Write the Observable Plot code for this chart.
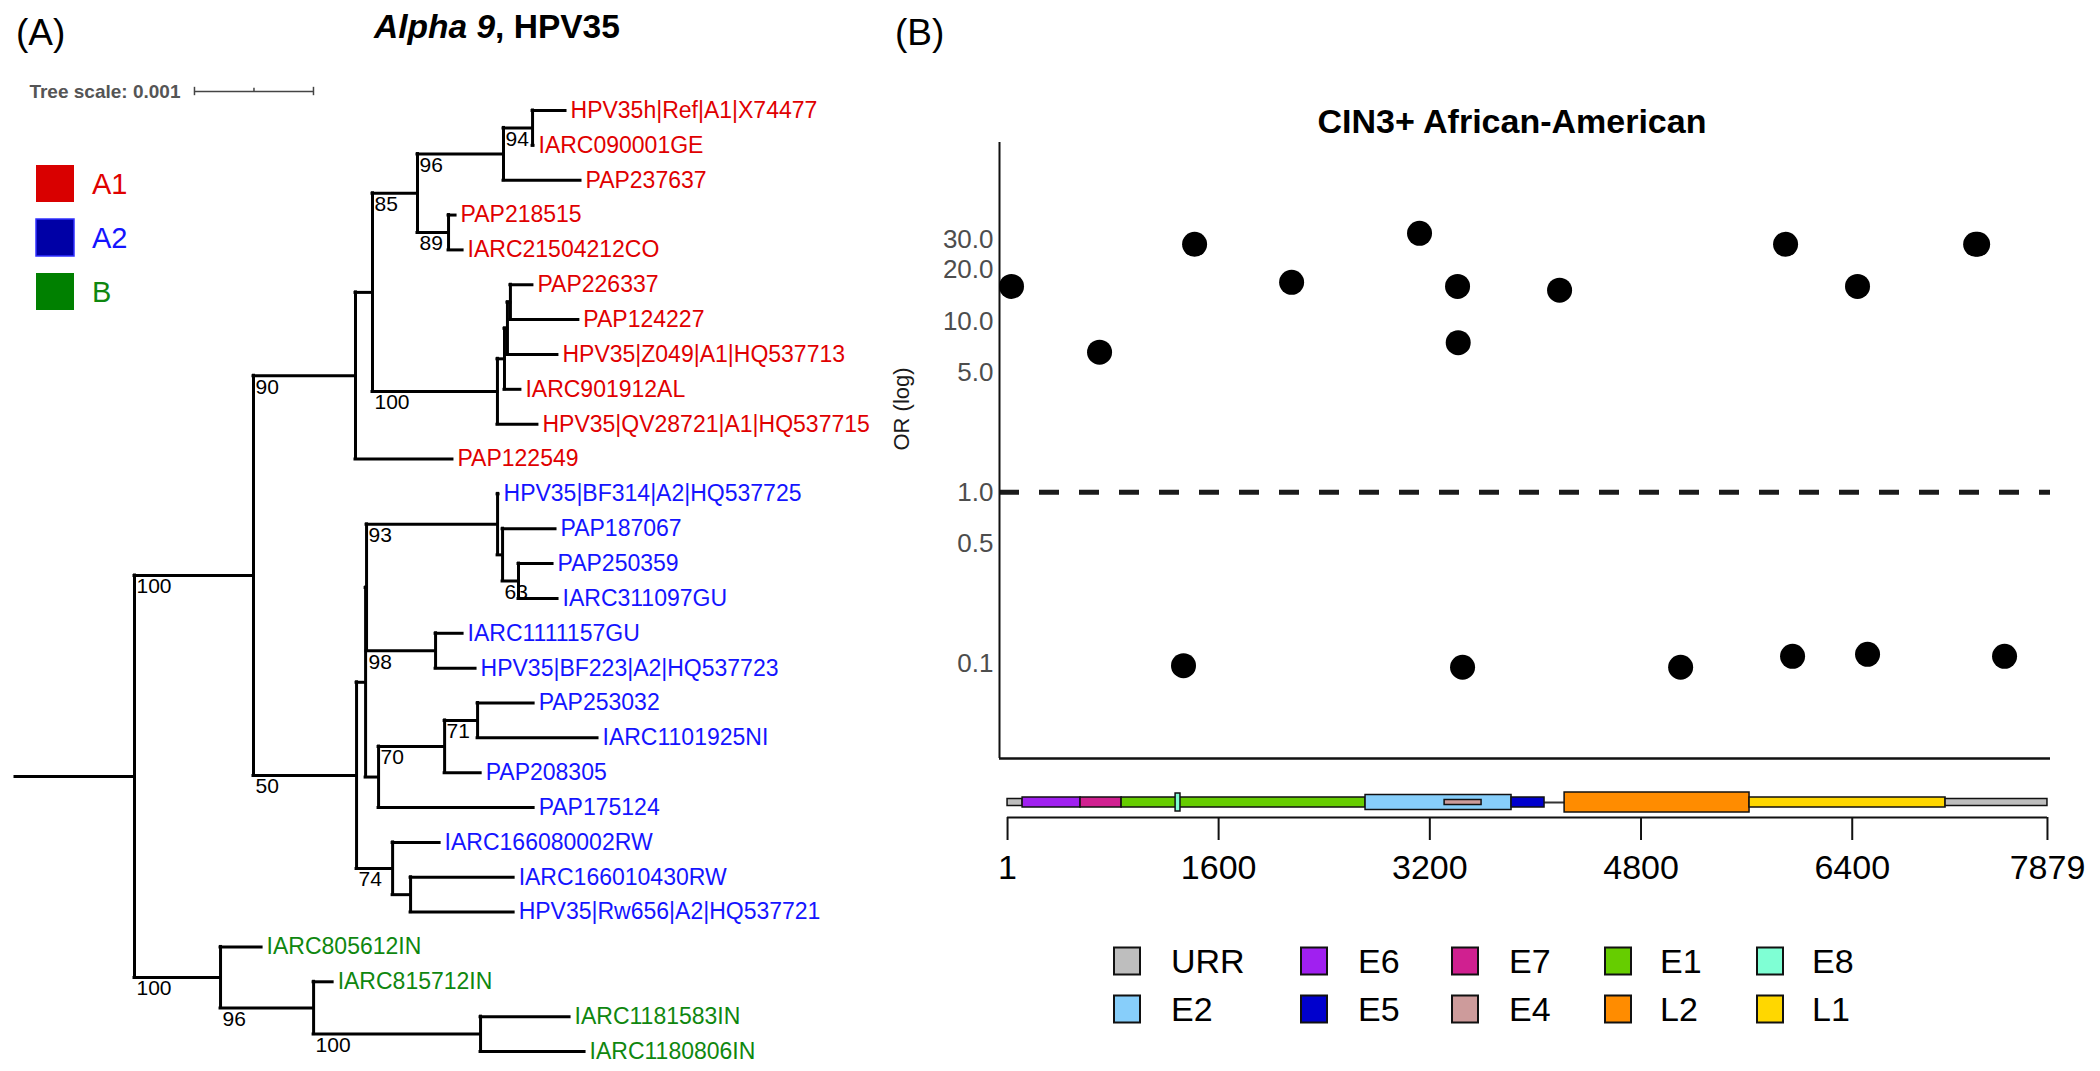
<!DOCTYPE html>
<html><head><meta charset="utf-8">
<script src="https://cdn.jsdelivr.net/npm/d3@7"></script>
<script src="https://cdn.jsdelivr.net/npm/@observablehq/plot@0.6"></script>
<style>
body{margin:0;background:#fff;}
#root{position:relative;width:2100px;height:1071px;overflow:hidden;background:#fff;font-family:"Liberation Sans",Arial,sans-serif;}
#root > div, #root > svg{position:absolute;}
</style></head><body><div id="root"></div>
<script>
// ---------------- Tree data (preorder) ----------------
const nodeIds = ["root","A","A1","n372","n417","n503","n532","HPV35h|Ref|A1|X74477","IARC090001GE","PAP237637","n447","PAP218515","IARC21504212CO","n497","n504","n507","n510","PAP226337","PAP124227","HPV35|Z049|A1|HQ537713","IARC901912AL","HPV35|QV28721|A1|HQ537715","PAP122549","A2","n365a","n365b","n497b","HPV35|BF314|A2|HQ537725","n502","PAP187067","n518","PAP250359","IARC311097GU","n435","IARC1111157GU","HPV35|BF223|A2|HQ537723","n378","n444","n477","PAP253032","IARC1101925NI","PAP208305","PAP175124","n392","IARC166080002RW","n410","IARC166010430RW","HPV35|Rw656|A2|HQ537721","B","IARC805612IN","n313","IARC815712IN","n480","IARC1181583IN","IARC1180806IN"];
const parentIds = [null,"root","A","A1","n372","n417","n503","n532","n532","n503","n417","n447","n447","n372","n497","n504","n507","n510","n510","n507","n504","n497","A1","A","A2","n365a","n365b","n497b","n497b","n502","n502","n518","n518","n365b","n435","n435","n365a","n378","n444","n477","n477","n444","n378","A2","n392","n392","n410","n410","root","B","B","n313","n313","n480","n480"];
// branch lengths in units of 0.001 substitutions/site (tree scale)
const branchLengths = [1.000,1.000,0.857,0.143,0.378,0.723,0.244,0.277,0.008,0.647,0.261,0.059,0.118,1.050,0.059,0.025,0.025,0.185,0.571,0.420,0.134,0.336,0.815,0.866,0.076,0.008,1.101,0.008,0.042,0.445,0.134,0.286,0.328,0.580,0.227,0.336,0.109,0.555,0.277,0.471,1.008,0.303,1.303,0.303,0.395,0.151,0.866,0.866,0.723,0.345,0.782,0.160,1.403,0.748,0.874];
const bootstraps = [null,100,90,null,85,96,94,null,null,null,89,null,null,100,null,null,null,null,null,null,null,null,null,50,null,null,93,null,null,null,63,null,null,98,null,null,null,70,71,null,null,null,null,74,null,null,null,null,100,null,96,null,100,null,null];
const leafClades = ["A1","A1","A1","A1","A1","A1","A1","A1","A1","A1","A1","A2","A2","A2","A2","A2","A2","A2","A2","A2","A2","A2","A2","A2","B","B","B","B"];
const cladeNames = ["A1","A2","B"];
const cladeTextColors = ["#e00000","#1414ff","#0f870f"];
const cladeKeyColors = ["#d90000","#0000a6","#008000"];
const treeScaleValue = "0.001";

// ---------------- Association data ----------------
const snpPositions = [31,698,1418,1334,2153,3122,3410,3415,3448,4183,5100,5895,5948,6440,6516,7335,7350,7554];
const snpOR = [16.0,6.6,28.2,0.097,16.9,32.7,16.0,7.5,0.095,15.2,0.095,28.2,0.110,16.0,0.113,28.2,28.2,0.110];
const orTicks = [0.1,0.5,1,5,10,20,30];
const genomeLength = 7879;
const genomeTicks = [1,1600,3200,4800,6400,7879];

// ---------------- Genome map ----------------
const geneNames = ["URR","E6","E7","E1","E8","E2","E4","E5","L2","L1","URR"];
const geneStarts = [1,115,554,865,1274,2713,3312,3819,4221,5622,7107];
const geneEnds = [115,554,865,2713,1311,3819,3592,4069,5622,7107,7879];
const legendGenes = ["URR","E6","E7","E1","E8","E2","E5","E4","L2","L1"];
const legendColors = ["#bebebe","#a020f0","#d02090","#66cd00","#7fffd4","#87cefa","#0000cd","#cd9b9b","#ff8c00","#ffd700"];

// ---------------- build tree layout ----------------
const n = nodeIds.length;
const idx = new Map(nodeIds.map((d,i)=>[d,i]));
const children = nodeIds.map(()=>[]);
parentIds.forEach((p,i)=>{ if(p!==null) children[idx.get(p)].push(i); });
const depth = new Array(n);
nodeIds.forEach((d,i)=>{ const p=parentIds[i]; depth[i] = p===null ? 0 : depth[idx.get(p)] + branchLengths[i]; });
const yPos = new Array(n);
let k=0; const leafClade = new Array(n);
for(let i=0;i<n;i++){ if(children[i].length===0){ leafClade[i]=leafClades[k]; yPos[i]=k++; } }
for(let i=n-1;i>=0;i--){ if(children[i].length){ const c=children[i]; yPos[i]=(yPos[c[0]]+yPos[c[c.length-1]])/2; } }
const horiz = nodeIds.map((d,i)=>({x1: parentIds[i]===null ? -branchLengths[i] : depth[idx.get(parentIds[i])], x2: depth[i], y: yPos[i]}));
const vert = nodeIds.map((d,i)=>i).filter(i=>children[i].length).map(i=>({x: depth[i], y1: yPos[children[i][0]], y2: yPos[children[i][children[i].length-1]]}));
const leaves = nodeIds.map((d,i)=>i).filter(i=>!children[i].length).map(i=>({name: nodeIds[i], x: depth[i], y: yPos[i], clade: leafClade[i]}));
const boots = nodeIds.map((d,i)=>i).filter(i=>bootstraps[i]!==null).map(i=>({text: String(bootstraps[i]), x: depth[idx.get(parentIds[i])], y: yPos[i]}));

const FONT = "Liberation Sans, Arial, Helvetica, sans-serif";
const root = document.getElementById("root");
function place(el, left, top){ const w=document.createElement("div"); w.style.left=left+"px"; w.style.top=top+"px"; w.appendChild(el); root.appendChild(w); }

// scale bar location (in tree units)
const sbX = 0.504, sbY = -0.545;
const treePlot = Plot.plot({
  width: 880, height: 1071, margin: 0,
  x: {domain:[0,1], range:[134,253], axis:null},
  y: {domain:[0,27], range:[110,1051], axis:null},
  color: {domain: cladeNames, range: cladeTextColors},
  style: {fontFamily: FONT, background: "transparent", overflow: "visible"},
  marks: [
    Plot.ruleY(horiz, {x1:"x1", x2:"x2", y:"y", stroke:"#000", strokeWidth:3, strokeLinecap:"square"}),
    Plot.ruleX(vert, {x:"x", y1:"y1", y2:"y2", stroke:"#000", strokeWidth:3, strokeLinecap:"square"}),
    Plot.text(leaves, {x:"x", y:"y", text:"name", fill:"clade", textAnchor:"start", dx:5, fontSize:23}),
    Plot.text(boots, {x:"x", y:"y", text:"text", fill:"#000", textAnchor:"start", lineAnchor:"top", dx:2, dy:3, fontSize:21}),
    Plot.ruleY([{x1: sbX, x2: sbX+1, y: sbY}], {x1:"x1", x2:"x2", y:"y", stroke:"#444", strokeWidth:1.5}),
    Plot.ruleX([sbX, sbX+1], {x: d=>d, y1: sbY-0.12, y2: sbY+0.12, stroke:"#444", strokeWidth:1.5}),
    Plot.ruleX([sbX+0.5], {x: d=>d, y1: sbY-0.09, y2: sbY, stroke:"#444", strokeWidth:1.5}),
    Plot.text(["Tree scale: " + treeScaleValue], {x: sbX, y: sbY, dx:-14, textAnchor:"end", fontWeight:"bold", fontSize:19, fill:"#555"})
  ]
});
place(treePlot, 0, 0);

// scatter
const xDomain = [-60, 7902];
const points = snpPositions.map((p,i)=>({pos:p, or:snpOR[i]}));
const yDomain = [0.0278, 111];
const scatter = Plot.plot({
  width: 1220, height: 780, marginLeft: 119, marginRight: 50, marginTop: 142, marginBottom: 22,
  x: {domain: xDomain, axis: null},
  y: {type: "log", domain: yDomain, axis: null},
  style: {fontFamily: FONT, background: "transparent", overflow: "visible"},
  marks: [
    Plot.ruleY([1], {stroke:"#1a1a1a", strokeWidth:5, strokeDasharray:"20,20"}),
    Plot.ruleX([xDomain[0]], {stroke:"#111", strokeWidth:2}),
    Plot.ruleY([yDomain[0]], {stroke:"#111", strokeWidth:2.5}),
    Plot.dot(points, {x:"pos", y:"or", r:12.5, fill:"#000", stroke:"none"}),
    Plot.text(orTicks, {y: d=>d, text: d=>d.toFixed(1), frameAnchor:"left", textAnchor:"end", dx:-6, fontSize:26, fill:"#4d4d4d"}),
    Plot.text(["OR (log)"], {frameAnchor:"left", rotate:-90, dx:-98, fontSize:22, fill:"#1a1a1a"})
  ]
});
place(scatter, 880, 0);

// genome map
const genes = geneNames.map((g,i)=>({gene:g, start:geneStarts[i], end:geneEnds[i]}));
const halfH = {URR:3.5, E6:5, E7:5, E1:5, E8:9, E2:7.5, E4:2.5, E5:5, L2:10, L1:5};
const barC = 22, axisY0 = 37;
const genome = Plot.plot({
  width: 1220, height: 291, marginLeft: 119, marginRight: 50, marginTop: 0, marginBottom: 0,
  x: {domain: xDomain, axis: null},
  y: {domain: [0, 291], range: [0, 291], axis: null},
  color: {domain: legendGenes, range: legendColors},
  style: {fontFamily: FONT, background: "transparent", overflow: "visible"},
  marks: [
    Plot.ruleY([barC], {x1: 1, x2: genomeLength, stroke:"#333", strokeWidth:2}),
    Plot.rect(genes, {x1:"start", x2:"end", y1: d=>barC-halfH[d.gene], y2: d=>barC+halfH[d.gene], fill:"gene", stroke:"#111", strokeWidth:1.5}),
    Plot.ruleY([axisY0], {x1: genomeTicks[0], x2: genomeTicks[genomeTicks.length-1], stroke:"#111", strokeWidth:2}),
    Plot.ruleX(genomeTicks, {x: d=>d, y1: axisY0, y2: axisY0+23, stroke:"#111", strokeWidth:2}),
    Plot.text(genomeTicks, {x: d=>d, y: 88, text: d=>String(d), fontSize:34, fill:"#000"})
  ]
});
place(genome, 880, 780);

// overlay annotations
const svg = d3.select(root).append("svg").attr("width",2100).attr("height",1071)
  .style("left","0px").style("top","0px").style("pointer-events","none")
  .style("font-family", FONT);
svg.append("text").attr("x",16).attr("y",45).attr("font-size",37).text("(A)");
svg.append("text").attr("x",895).attr("y",45).attr("font-size",37).text("(B)");
const t = svg.append("text").attr("x",497).attr("y",38).attr("font-size",33.5).attr("font-weight","bold").attr("text-anchor","middle");
t.append("tspan").attr("font-style","italic").text("Alpha 9");
t.append("tspan").text(", HPV35");
svg.append("text").attr("x",1512).attr("y",133).attr("font-size",34).attr("font-weight","bold").attr("text-anchor","middle").text("CIN3+ African-American");

// clade key
const keyTops = [165,219,273];
cladeNames.forEach((c,i)=>{
  svg.append("rect").attr("x",36).attr("y",keyTops[i]).attr("width",38).attr("height",37).attr("fill",cladeKeyColors[i]).attr("stroke", i===1?"#3030ff":"none").attr("stroke-width",1.5);
  svg.append("text").attr("x",92).attr("y",keyTops[i]+29).attr("font-size",29).attr("fill",cladeTextColors[i]).text(c);
});

// gene legend
const colSw = [1114,1301,1452,1605,1757], colTx = [1171,1358,1509,1660,1812], rowC = [961,1009];
legendGenes.forEach((g,i)=>{
  const r = Math.floor(i/5), c = i%5;
  svg.append("rect").attr("x",colSw[c]).attr("y",rowC[r]-13.5).attr("width",26).attr("height",27).attr("fill",legendColors[i]).attr("stroke","#111").attr("stroke-width",2);
  svg.append("text").attr("x",colTx[c]).attr("y",rowC[r]+12).attr("font-size",34).attr("fill","#000").text(g);
});
</script>
</body></html>
